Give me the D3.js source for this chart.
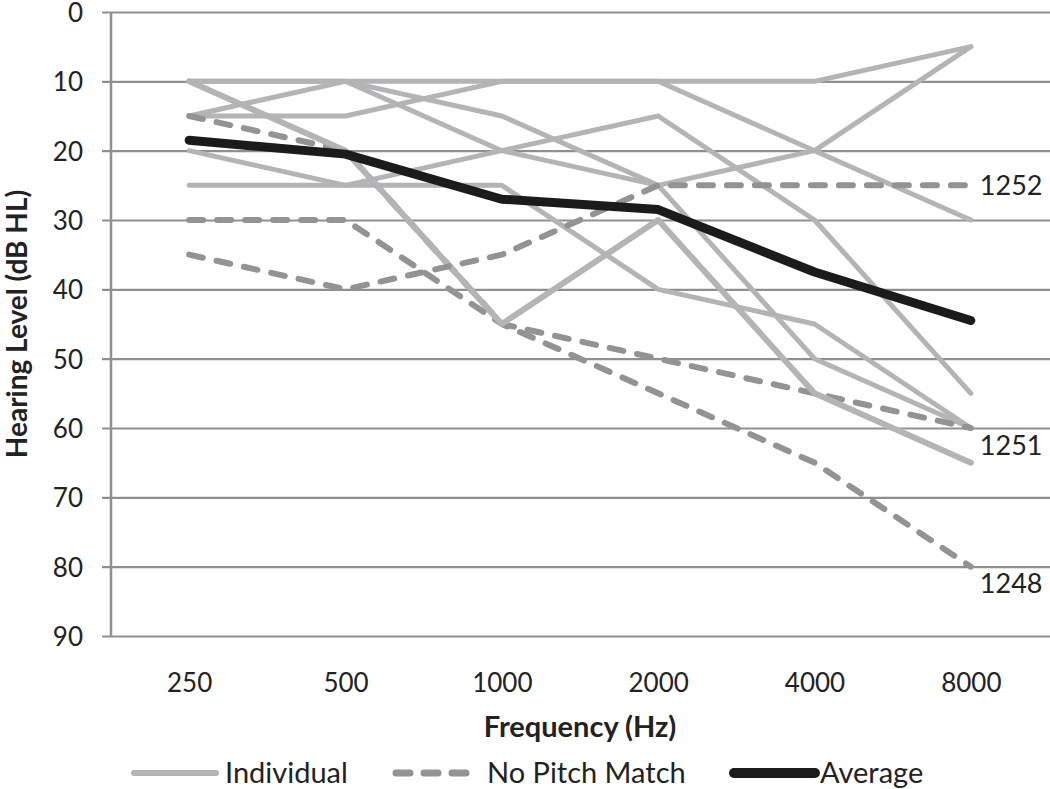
<!DOCTYPE html>
<html>
<head>
<meta charset="utf-8">
<script src="https://cdn.jsdelivr.net/npm/d3@7"></script>
<style>
  html, body { margin: 0; padding: 0; background: #fff; }
  svg { display: block; font-family: Lato, "Open Sans", sans-serif; }
</style>
</head>
<body>
<svg id="chart" width="1050" height="789"></svg>
<script>
// ---- data ----
const frequencies = ["250", "500", "1000", "2000", "4000", "8000"];
const yTicks = [0, 10, 20, 30, 40, 50, 60, 70, 80, 90];

// individual participants (solid light grey)
const indiv1 = [10, 10, 10, 10, 10, 5];
const indiv2 = [10, 10, 15, 25, 20, 5];
const indiv3 = [15, 10, 20, 25, 50, 60];
const indiv4 = [15, 15, 10, 10, 20, 30];
const indiv5 = [20, 25, 20, 15, 30, 55];
const indiv6 = [25, 25, 25, 40, 45, 60];
const indiv7 = [10, 20, 45, 30, 55, 65];

// participants without pitch match (dashed)
const noPitch1248 = [30, 30, 45, 55, 65, 80];
const noPitch1251 = [15, 20, 45, 50, 55, 60];
const noPitch1252 = [35, 40, 35, 25, 25, 25];

const average = [18.5, 20.5, 27, 28.5, 37.5, 44.5];

const legendLabels = ["Individual", "No Pitch Match", "Average"];

// ---- chart ----
const svg = d3.select("#chart");
const plotLeft = 111, plotRight = 1049, plotTop = 12, plotBottom = 636;

const x = d3.scalePoint().domain(frequencies).range([plotLeft, plotRight]).padding(0.5);
const y = d3.scaleLinear().domain([0, 90]).range([plotTop, plotBottom]);

const gridColor = "#8f8f92";
const indivColor = "#b4b4b6";
const dashColor = "#939396";
const avgColor = "#1c1a1a";

// y axis with gridlines
const yAxis = d3.axisLeft(y).tickValues(yTicks).tickSize(0).tickPadding(0);
const gy = svg.append("g").attr("transform", `translate(${plotLeft},0)`).call(yAxis);
gy.select(".domain").remove();
gy.selectAll(".tick line")
  .attr("x1", -9).attr("x2", plotRight - plotLeft + 2)
  .attr("stroke", gridColor).attr("stroke-width", 2.2);
gy.selectAll(".tick text")
  .attr("x", -28).attr("dy", "0.36em")
  .attr("fill", "#222").style("font-size", "26px").style("font-family", "Lato, sans-serif");

// vertical axis line
svg.append("line")
  .attr("x1", plotLeft).attr("x2", plotLeft)
  .attr("y1", y(0)).attr("y2", y(90))
  .attr("stroke", gridColor).attr("stroke-width", 2.5);

// x axis labels
const xAxis = d3.axisBottom(x).tickSize(0).tickPadding(0);
const gx = svg.append("g").attr("transform", `translate(0,${plotBottom})`).call(xAxis);
gx.select(".domain").remove();
gx.selectAll(".tick text")
  .attr("y", 56).attr("dy", 0)
  .attr("fill", "#222").style("font-size", "26px").style("font-family", "Lato, sans-serif");

// axis titles
svg.append("text")
  .attr("x", 580).attr("y", 737)
  .attr("text-anchor", "middle")
  .style("font-size", "29px").style("font-weight", "bold").attr("fill", "#222")
  .text("Frequency (Hz)");
svg.append("text")
  .attr("transform", `translate(27,${(plotTop + plotBottom) / 2}) rotate(-90)`)
  .attr("text-anchor", "middle")
  .style("font-size", "28px").style("font-weight", "bold").attr("fill", "#222")
  .text("Hearing Level (dB HL)");

// lines
const line = d3.line().x((d, i) => x(frequencies[i])).y(d => y(d));
const plot = svg.append("g").attr("fill", "none")
  .attr("stroke-linecap", "round").attr("stroke-linejoin", "round");

function drawSolid(vals, w) {
  plot.append("path").datum(vals).attr("d", line)
    .attr("stroke", indivColor).attr("stroke-width", w || 5);
}
function drawDashed(vals) {
  plot.append("path").datum(vals).attr("d", line)
    .attr("stroke", dashColor).attr("stroke-width", 6)
    .attr("stroke-dasharray", "14 14");
}

[indiv1, indiv2, indiv3, indiv4, indiv5, indiv6].forEach(v => drawSolid(v));
drawDashed(noPitch1248);
drawDashed(noPitch1251);
drawSolid(indiv7, 6);
drawDashed(noPitch1252);

plot.append("path").datum(average).attr("d", line)
  .attr("stroke", avgColor).attr("stroke-width", 9);

// end labels for no-pitch-match participants
const endLabels = [
  { id: "1252", v: noPitch1252[5], dy: 0 },
  { id: "1251", v: noPitch1251[5], dy: 17 },
  { id: "1248", v: noPitch1248[5], dy: 17 }
];
svg.selectAll(".endlabel").data(endLabels).enter().append("text")
  .attr("class", "endlabel")
  .attr("x", x("8000") + 9)
  .attr("y", d => y(d.v) + d.dy)
  .attr("dy", "0.36em")
  .attr("fill", "#222").style("font-size", "27px")
  .text(d => d.id);

// legend
const legY = 773;
const lg = svg.append("g").attr("stroke-linecap", "round");
lg.append("line").attr("x1", 134).attr("x2", 216).attr("y1", legY).attr("y2", legY)
  .attr("stroke", indivColor).attr("stroke-width", 6);
lg.append("line").attr("x1", 396).attr("x2", 468).attr("y1", legY).attr("y2", legY)
  .attr("stroke", dashColor).attr("stroke-width", 7).attr("stroke-dasharray", "14 14");
lg.append("line").attr("x1", 734).attr("x2", 815).attr("y1", legY).attr("y2", legY)
  .attr("stroke", avgColor).attr("stroke-width", 10);
const legTextX = [225, 487, 820];
legendLabels.forEach((t, i) => {
  lg.append("text").attr("x", legTextX[i]).attr("y", legY).attr("dy", "0.36em")
    .attr("fill", "#222").style("font-size", "29px").text(t);
});
</script>
</body>
</html>
